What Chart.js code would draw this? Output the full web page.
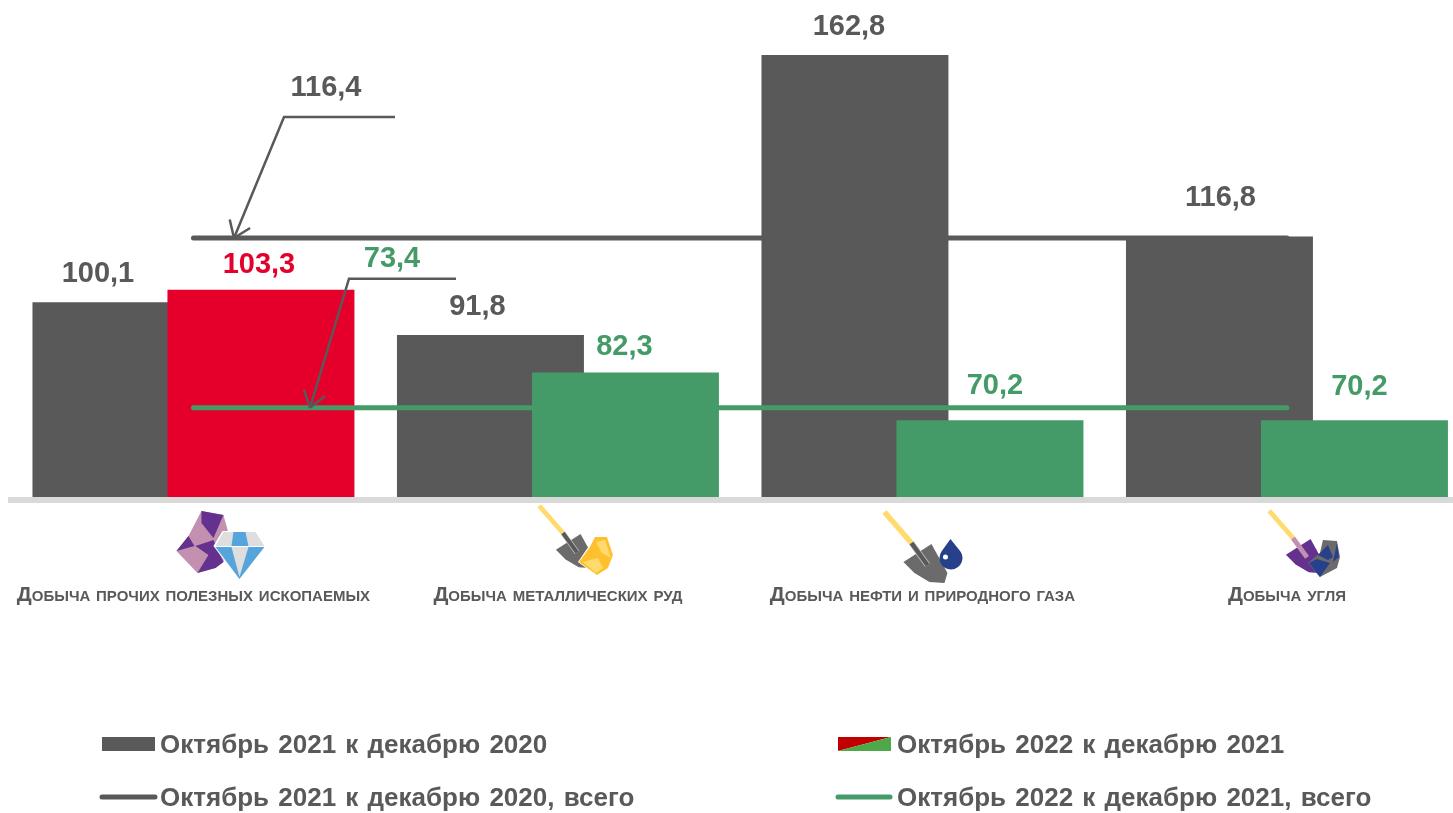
<!DOCTYPE html>
<html>
<head>
<meta charset="utf-8">
<script src="https://cdn.jsdelivr.net/npm/chart.js@4/dist/chart.umd.min.js"></script>
<style>
  html, body { margin: 0; padding: 0; background: #fff; overflow: hidden; }
  #wrap { width: 1453px; height: 813px; overflow: hidden; }
</style>
</head>
<body>
<div id="wrap"><canvas id="miningChart" width="1480" height="813" style="width:1480px;height:813px;display:block"></canvas></div>
<script>
const categories = [
    'Добыча прочих полезных ископаемых',
    'Добыча металлических руд',
    'Добыча нефти и природного газа',
    'Добыча угля'
];
const values2021 = [100.1, 91.8, 162.8, 116.8];
const values2022 = [103.3, 82.3, 70.2, 70.2];
const total2021 = [116.4, 116.4, 116.4, 116.4];
const total2022 = [73.4, 73.4, 73.4, 73.4];

const GRAY = '#595959';
const RED = '#E4002B';
const GREEN = '#449B68';
const PURPLE = '#65318E';
const PINK = '#C490B0';
const NAVY = '#27408B';
const FONT = '"Liberation Sans"';
const colors2022 = [RED, GREEN, GREEN, GREEN];

const legendNames = [
    'Октябрь 2021 к декабрю 2020',
    'Октябрь 2022 к декабрю 2021',
    'Октябрь 2021 к декабрю 2020, всего',
    'Октябрь 2022 к декабрю 2021, всего'
];

function fmt(v) {
    return v.toFixed(1).replace('.', ',');
}

function poly(ctx, color, pts) {
    ctx.fillStyle = color;
    ctx.beginPath();
    pts.forEach((p, i) => i ? ctx.lineTo(p[0], p[1]) : ctx.moveTo(p[0], p[1]));
    ctx.closePath();
    ctx.fill();
}

// shovel pictogram, origin is where the handle meets the neck
function shovel(ctx, x, y, k, bladeColor, neckColor) {
    ctx.save();
    ctx.translate(x, y);
    ctx.scale(k, k);
    ctx.lineCap = 'butt';
    ctx.strokeStyle = '#FFDB6E';
    ctx.lineWidth = 5.5;
    ctx.beginPath();
    ctx.moveTo(-27, -31);
    ctx.lineTo(0, 0);
    ctx.stroke();
    poly(ctx, bladeColor, [[-8, 19], [20, 1], [36, 30], [33, 40], [18, 39], [3, 30]]);
    ctx.beginPath();
    ctx.moveTo(0, 0);
    ctx.lineTo(16, 22);
    if (neckColor === GRAY) {
        ctx.strokeStyle = '#C8C8C8';
        ctx.lineWidth = 6;
        ctx.stroke();
        ctx.strokeStyle = neckColor;
        ctx.lineWidth = 4.5;
    } else {
        ctx.strokeStyle = neckColor;
        ctx.lineWidth = 5.5;
    }
    ctx.stroke();
    ctx.restore();
}

// icons under the axis, placed from the category centres
const iconPlugin = {
    id: 'icons',
    afterDraw(chart) {
        const ctx = chart.ctx;
        const xs = chart.scales.x;
        const at = (c, pts) => pts.map(p => [c + p[0], p[1]]);
        ctx.save();
        // gems
        let c = xs.getPixelForValue(0);
        poly(ctx, PINK, at(c, [[8, 511], [30, 515], [35, 533], [30, 562], [22, 568], [4, 573], [-17, 551], [-5, 536]]));
        poly(ctx, PURPLE, at(c, [[8, 511], [30, 515], [20, 538], [8, 523]]));
        poly(ctx, PURPLE, at(c, [[-5, 536], [1, 546], [-17, 551]]));
        poly(ctx, PURPLE, at(c, [[2, 546], [20, 540], [30, 562], [22, 568], [4, 573], [15, 555]]));
        poly(ctx, '#FFFFFF', at(c, [[29, 531], [62, 531], [72, 546], [46, 581], [20, 546]]));
        poly(ctx, '#DEDEDE', at(c, [[30, 532], [62, 532], [71, 546], [22, 546]]));
        poly(ctx, '#55A5DC', at(c, [[40, 532], [52, 532], [55, 546], [38, 546]]));
        poly(ctx, '#55A5DC', at(c, [[22, 547], [71, 547], [46, 579]]));
        poly(ctx, '#DEDEDE', at(c, [[38, 547], [55, 547], [46, 577]]));
        // ore
        c = xs.getPixelForValue(1);
        shovel(ctx, c + 5, 533, 0.88, '#6B6B6B', GRAY);
        poly(ctx, '#FFFFFF', at(c, [[36, 536], [50, 536], [56, 555], [50, 569], [39, 576], [20, 562], [31, 546]]));
        poly(ctx, '#FFC02E', at(c, [[37, 537], [49, 537], [55, 555], [50, 568], [39, 575], [21, 562], [32, 547]]));
        poly(ctx, '#FFDB6E', at(c, [[38, 542], [47, 540], [53, 558], [44, 553]]));
        poly(ctx, '#FFDB6E', at(c, [[25, 562], [40, 558], [45, 568], [38, 573]]));
        // oil
        c = xs.getPixelForValue(2);
        shovel(ctx, c - 11, 543, 1, '#6B6B6B', GRAY);
        ctx.fillStyle = NAVY;
        ctx.beginPath();
        ctx.moveTo(c + 28, 539);
        ctx.arc(c + 28.5, 558, 11.5, -Math.PI * 0.2, Math.PI * 1.2);
        ctx.closePath();
        ctx.fill();
        ctx.fillStyle = '#FFFFFF';
        ctx.beginPath();
        ctx.arc(c + 23, 557, 2.5, 0, Math.PI * 2);
        ctx.fill();
        // coal
        c = xs.getPixelForValue(3);
        shovel(ctx, c + 6, 538, 0.88, PURPLE, PINK);
        poly(ctx, '#6B6B6B', at(c, [[36, 540], [50, 541], [53, 557], [50, 568], [33, 577], [21, 563], [33, 553]]));
        poly(ctx, NAVY, at(c, [[41, 545], [46, 557], [41, 560], [31, 555]]));
        poly(ctx, NAVY, at(c, [[22, 563], [30, 559], [43, 563], [33, 577]]));
        poly(ctx, NAVY, at(c, [[50, 543], [52, 557], [46, 562]]));
        ctx.restore();
    }
};

// value labels and the two callouts
const labelOffsets2021 = [[-28, -28], [-13, -28], [-6, -28], [1, -38]];
const labelOffsets2022 = [[-2, -25], [-1, -26], [5, -34], [5, -33]];

function callout(ctx, xEnd, xElbow, yTop, xTip, yTip) {
    ctx.strokeStyle = GRAY;
    ctx.lineWidth = 2.5;
    ctx.lineCap = 'butt';
    ctx.lineJoin = 'miter';
    ctx.beginPath();
    ctx.moveTo(xEnd, yTop);
    ctx.lineTo(xElbow, yTop);
    ctx.lineTo(xTip, yTip);
    ctx.stroke();
    const ang = Math.atan2(yTip - yTop, xTip - xElbow);
    ctx.beginPath();
    [0.62, -0.62].forEach(d => {
        ctx.moveTo(xTip - 19 * Math.cos(ang + d), yTip - 19 * Math.sin(ang + d));
        ctx.lineTo(xTip, yTip);
    });
    ctx.stroke();
}

const labelPlugin = {
    id: 'valueLabels',
    afterDatasetsDraw(chart) {
        const ctx = chart.ctx;
        const ys = chart.scales.y;
        const bars21 = chart.getDatasetMeta(2).data;
        const bars22 = chart.getDatasetMeta(3).data;
        ctx.save();
        ctx.font = 'bold 29px ' + FONT;
        ctx.textAlign = 'center';
        ctx.textBaseline = 'middle';
        values2021.forEach((v, i) => {
            ctx.fillStyle = GRAY;
            ctx.fillText(fmt(v), bars21[i].x + labelOffsets2021[i][0], bars21[i].y + labelOffsets2021[i][1]);
        });
        values2022.forEach((v, i) => {
            ctx.fillStyle = colors2022[i];
            ctx.fillText(fmt(v), bars22[i].x + labelOffsets2022[i][0], bars22[i].y + labelOffsets2022[i][1]);
        });

        const y1 = ys.getPixelForValue(total2021[0]);
        const y2 = ys.getPixelForValue(total2022[0]);
        ctx.fillStyle = GRAY;
        ctx.fillText(fmt(total2021[0]), 326, y1 - 150);
        ctx.fillStyle = GREEN;
        ctx.fillText(fmt(total2022[0]), 392, y2 - 149);
        callout(ctx, 395, 284, y1 - 121, 234, y1);
        callout(ctx, 456, 349, y2 - 129, 310, y2);
        ctx.restore();
    }
};

const legendPlugin = {
    id: 'bottomLegend',
    afterDraw(chart) {
        const ctx = chart.ctx;
        ctx.save();
        ctx.font = 'bold 26px ' + FONT;
        ctx.wordSpacing = '2px';
        ctx.textAlign = 'left';
        ctx.textBaseline = 'middle';
        ctx.fillStyle = GRAY;
        ctx.fillRect(102, 737, 53, 14);
        poly(ctx, '#C00000', [[838, 737], [891, 737], [838, 751]]);
        poly(ctx, '#4EA84A', [[891, 737], [891, 751], [838, 751]]);
        ctx.lineCap = 'round';
        ctx.lineWidth = 5;
        ctx.strokeStyle = GRAY;
        ctx.beginPath(); ctx.moveTo(102, 797); ctx.lineTo(155, 797); ctx.stroke();
        ctx.strokeStyle = GREEN;
        ctx.beginPath(); ctx.moveTo(838, 797); ctx.lineTo(890, 797); ctx.stroke();
        ctx.fillStyle = GRAY;
        ctx.fillText(legendNames[0], 160, 746);
        ctx.fillText(legendNames[1], 897, 746);
        ctx.fillText(legendNames[2], 160, 799);
        ctx.fillText(legendNames[3], 897, 799);
        ctx.restore();
    }
};

// Chart.js places the lowest order on the left and also on top, here the left
// bar has to stay underneath, so the right series is drawn after the left one
const overlapPlugin = {
    id: 'overlap',
    beforeDatasetDraw(chart, args) {
        if (args.index === 3) return false;
    },
    afterDatasetDraw(chart, args) {
        if (args.index === 2) {
            const area = chart.chartArea;
            const ctx = chart.ctx;
            ctx.save();
            ctx.beginPath();
            ctx.rect(area.left, area.top, area.right - area.left, area.bottom - area.top);
            ctx.clip();
            chart.getDatasetMeta(3).controller.draw();
            ctx.restore();
        }
    }
};

new Chart(document.getElementById('miningChart').getContext('2d'), {
    type: 'bar',
    data: {
        labels: categories,
        datasets: [
            { type: 'line', label: legendNames[3], data: total2022, borderColor: GREEN, borderWidth: 5, borderCapStyle: 'round', pointRadius: 0, tension: 0, order: 0 },
            { type: 'line', label: legendNames[2], data: total2021, borderColor: GRAY, borderWidth: 5, borderCapStyle: 'round', pointRadius: 0, tension: 0, order: 1 },
            { label: legendNames[0], data: values2021, backgroundColor: GRAY, order: 2 },
            { label: legendNames[1], data: values2022, backgroundColor: colors2022, order: 3 }
        ]
    },
    options: {
        responsive: false,
        animation: false,
        // bars are wider than their slot, that gives the overlap inside a group
        datasets: { bar: { categoryPercentage: 0.7407, barPercentage: 1.385 } },
        layout: { padding: { left: 11.2, right: 10.8, top: 26.6, bottom: 13 } },
        plugins: { legend: { display: false }, tooltip: { enabled: false } },
        scales: {
            x: {
                afterFit: scale => {
                    scale.height = 300;
                    scale.paddingLeft = 0;
                    scale.paddingRight = 0;
                },
                grid: { display: false, drawTicks: false },
                border: { color: '#D9D9D9', width: 6, z: 1 },
                ticks: {
                    color: GRAY,
                    autoSkip: false,
                    maxRotation: 0,
                    padding: 83,
                    font: { family: FONT, size: 21, weight: 'small-caps bold' }
                }
            },
            y: { display: false, min: 50, max: 170 }
        }
    },
    plugins: [overlapPlugin, iconPlugin, labelPlugin, legendPlugin]
});
</script>
</body>
</html>
